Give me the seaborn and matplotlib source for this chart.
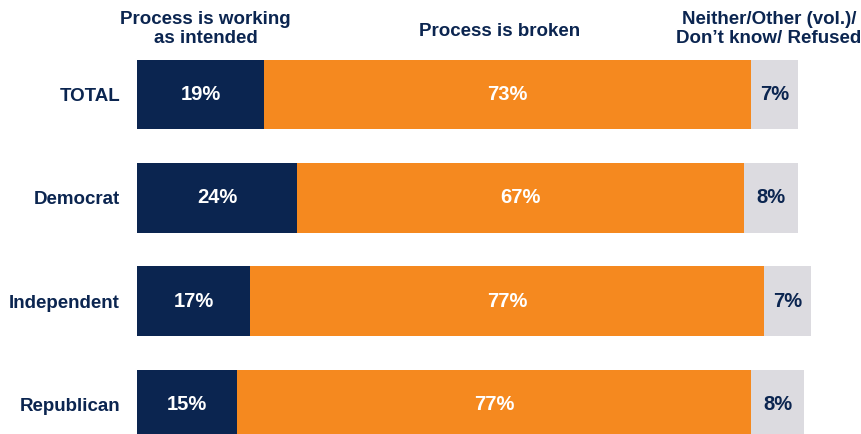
import pandas as pd
import seaborn as sns
from matplotlib import pyplot as plt

# survey results, percent
groups = ['TOTAL', 'Democrat', 'Independent', 'Republican']
working = [19, 24, 17, 15]
broken = [73, 67, 77, 77]
neither = [7, 8, 7, 8]

headers = ['Process is working\nas intended', 'Process is broken',
           'Neither/Other (vol.)/\nDon\u2019t know/ Refused']

navy = '#0b2550'
orange = '#f5891f'
grey = '#dcdbe0'

sns.set_theme(style='white')
plt.rcParams['font.family'] = ['Liberation Sans', 'DejaVu Sans']

df = pd.DataFrame({'group': groups, 'working': working, 'broken': broken, 'neither': neither})
df['end_working'] = df['working']
df['end_broken'] = df['working'] + df['broken']
df['end_neither'] = df['end_broken'] + df['neither']

fig = plt.figure(figsize=(8.61, 4.34), dpi=100)
ax = fig.add_axes([137 / 861, 0, 724 / 861, 1])

# stacked bars: draw the longest first and cover it with the shorter ones
for col, color in [('end_neither', grey), ('end_broken', orange), ('end_working', navy)]:
    sns.barplot(data=df, x=col, y='group', order=groups, color=color, width=0.67,
                saturation=1, errorbar=None, linewidth=0, ax=ax)

# value labels centred in each segment
for i, row in df.iterrows():
    starts = [0, row['working'], row['end_broken']]
    vals = [row['working'], row['broken'], row['neither']]
    colors = ['white', 'white', navy]
    for s, v, c in zip(starts, vals, colors):
        ax.text(s + v / 2, i, f'{v}%', ha='center', va='center', color=c,
                fontsize=14.5, fontweight='bold')

# column headers above the bars
header_x = [10.3, 54.3, 94.7]
header_y = [-0.64, -0.621, -0.64]
for h, x, y in zip(headers, header_x, header_y):
    ax.text(x, y, h, ha='center', va='center', color=navy, fontsize=13.5,
            fontweight='bold', linespacing=1.2)

ax.set_xlim(0, 108.5)
ax.set_ylim(3.291, -0.922)
ax.set_xlabel('')
ax.set_ylabel('')
ax.set_xticks([])
ax.set_yticks(range(len(groups)))
ax.set_yticklabels(groups, fontsize=13.5, fontweight='bold', color=navy)
ax.tick_params(axis='y', length=0, pad=12.2)
sns.despine(ax=ax, left=True, bottom=True)

fig.savefig('out.png', dpi=100)
